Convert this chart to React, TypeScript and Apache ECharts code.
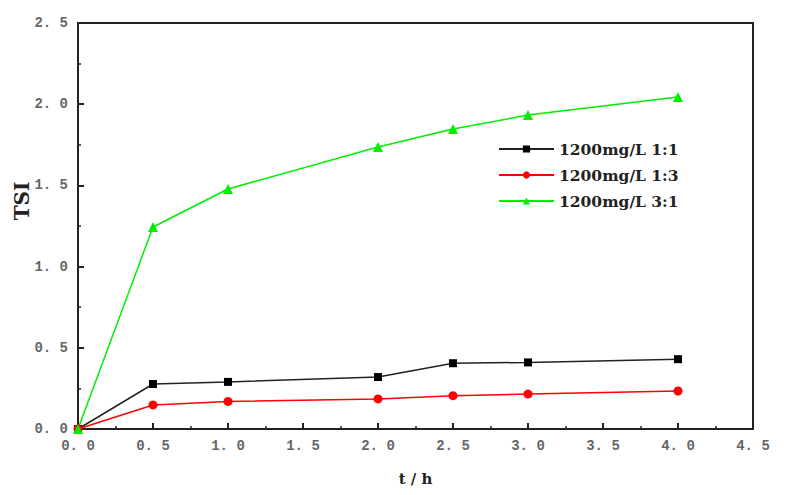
import React, { useEffect, useRef } from "react";
import * as echarts from "echarts";

const hours = [0, 0.5, 1.0, 2.0, 2.5, 3.0, 4.0];
const series11 = [0, 0.277, 0.29, 0.32, 0.405, 0.41, 0.43];
const series13 = [0, 0.148, 0.17, 0.185, 0.205, 0.215, 0.234];
const series31 = [0, 1.244, 1.478, 1.736, 1.847, 1.933, 2.044];
const seriesNames = ["1200mg/L 1:1", "1200mg/L 1:3", "1200mg/L 3:1"];
const xName = "t / h";
const yName = "TSI";

const pair = (ys: number[]) => hours.map((h, i) => [h, ys[i]]);

export default function App() {
  const ref = useRef<HTMLDivElement>(null);
  useEffect(() => {
    document.body.style.margin = "0";
    const chart = echarts.init(ref.current!, null, { renderer: "svg" });
    const tickFont = {
      fontFamily: "Liberation Mono, DejaVu Sans Mono, monospace",
      fontSize: 14,
      fontWeight: "bold",
      color: "#666",
    };
    const fmt = (v: number) => v.toFixed(1).replace(".", ". ");
    chart.setOption({
      animation: false,
      backgroundColor: "#fff",
      grid: {
        left: 78,
        right: 35,
        top: 23,
        bottom: 66,
        show: true,
        borderColor: "#222",
        borderWidth: 2,
        backgroundColor: "transparent",
      },
      legend: {
        orient: "vertical",
        left: 493,
        top: 136,
        itemGap: 10,
        itemWidth: 55,
        itemHeight: 9,
        textStyle: {
          fontFamily: "DejaVu Serif, serif",
          fontWeight: "bold",
          fontSize: 15.5,
          color: "#222",
        },
        data: seriesNames,
      },
      graphic: [
        {
          type: "text",
          x: 22,
          y: 201,
          rotation: Math.PI / 2,
          style: {
            text: yName,
            fontFamily: "DejaVu Serif, serif",
            fontWeight: "bold",
            fontSize: 20,
            fill: "#222",
            align: "center",
            verticalAlign: "middle",
          },
        },
      ],
      xAxis: {
        type: "value",
        min: 0,
        max: 4.5,
        interval: 0.5,
        name: xName,
        nameLocation: "middle",
        nameGap: 42,
        nameTextStyle: {
          fontFamily: "DejaVu Serif, serif",
          fontWeight: "bold",
          fontSize: 15,
          color: "#222",
        },
        axisLine: { show: true, lineStyle: { color: "#222", width: 2 } },
        axisTick: { show: true, inside: true, length: 6, lineStyle: { color: "#222", width: 2 } },
        minorTick: { show: true, splitNumber: 2, length: 3, lineStyle: { color: "#222", width: 1.5 } },
        splitLine: { show: false },
        axisLabel: { ...tickFont, margin: 10, formatter: fmt },
      },
      yAxis: {
        type: "value",
        min: 0,
        max: 2.5,
        interval: 0.5,
        axisLine: { show: true, lineStyle: { color: "#222", width: 2 } },
        axisTick: { show: true, inside: true, length: 6, lineStyle: { color: "#222", width: 2 } },
        minorTick: { show: true, splitNumber: 2, length: 3, lineStyle: { color: "#222", width: 1.5 } },
        splitLine: { show: false },
        axisLabel: { ...tickFont, margin: 10, formatter: fmt },
      },
      series: [
        {
          name: seriesNames[0],
          type: "line",
          data: pair(series11),
          symbol: "rect",
          symbolSize: 8,
          itemStyle: { color: "#000" },
          lineStyle: { color: "#222", width: 1.5 },
          z: 3,
        },
        {
          name: seriesNames[1],
          type: "line",
          data: pair(series13),
          symbol: "circle",
          symbolSize: 9,
          itemStyle: { color: "#ff0000" },
          lineStyle: { color: "#ff0000", width: 1.5 },
          z: 3,
        },
        {
          name: seriesNames[2],
          type: "line",
          data: pair(series31),
          symbol: "triangle",
          symbolSize: 10,
          itemStyle: { color: "#00ee00" },
          lineStyle: { color: "#00ee00", width: 1.5 },
          z: 3,
        },
      ],
    });
    return () => chart.dispose();
  }, []);
  return <div ref={ref} style={{ width: 788, height: 495 }} />;
}
